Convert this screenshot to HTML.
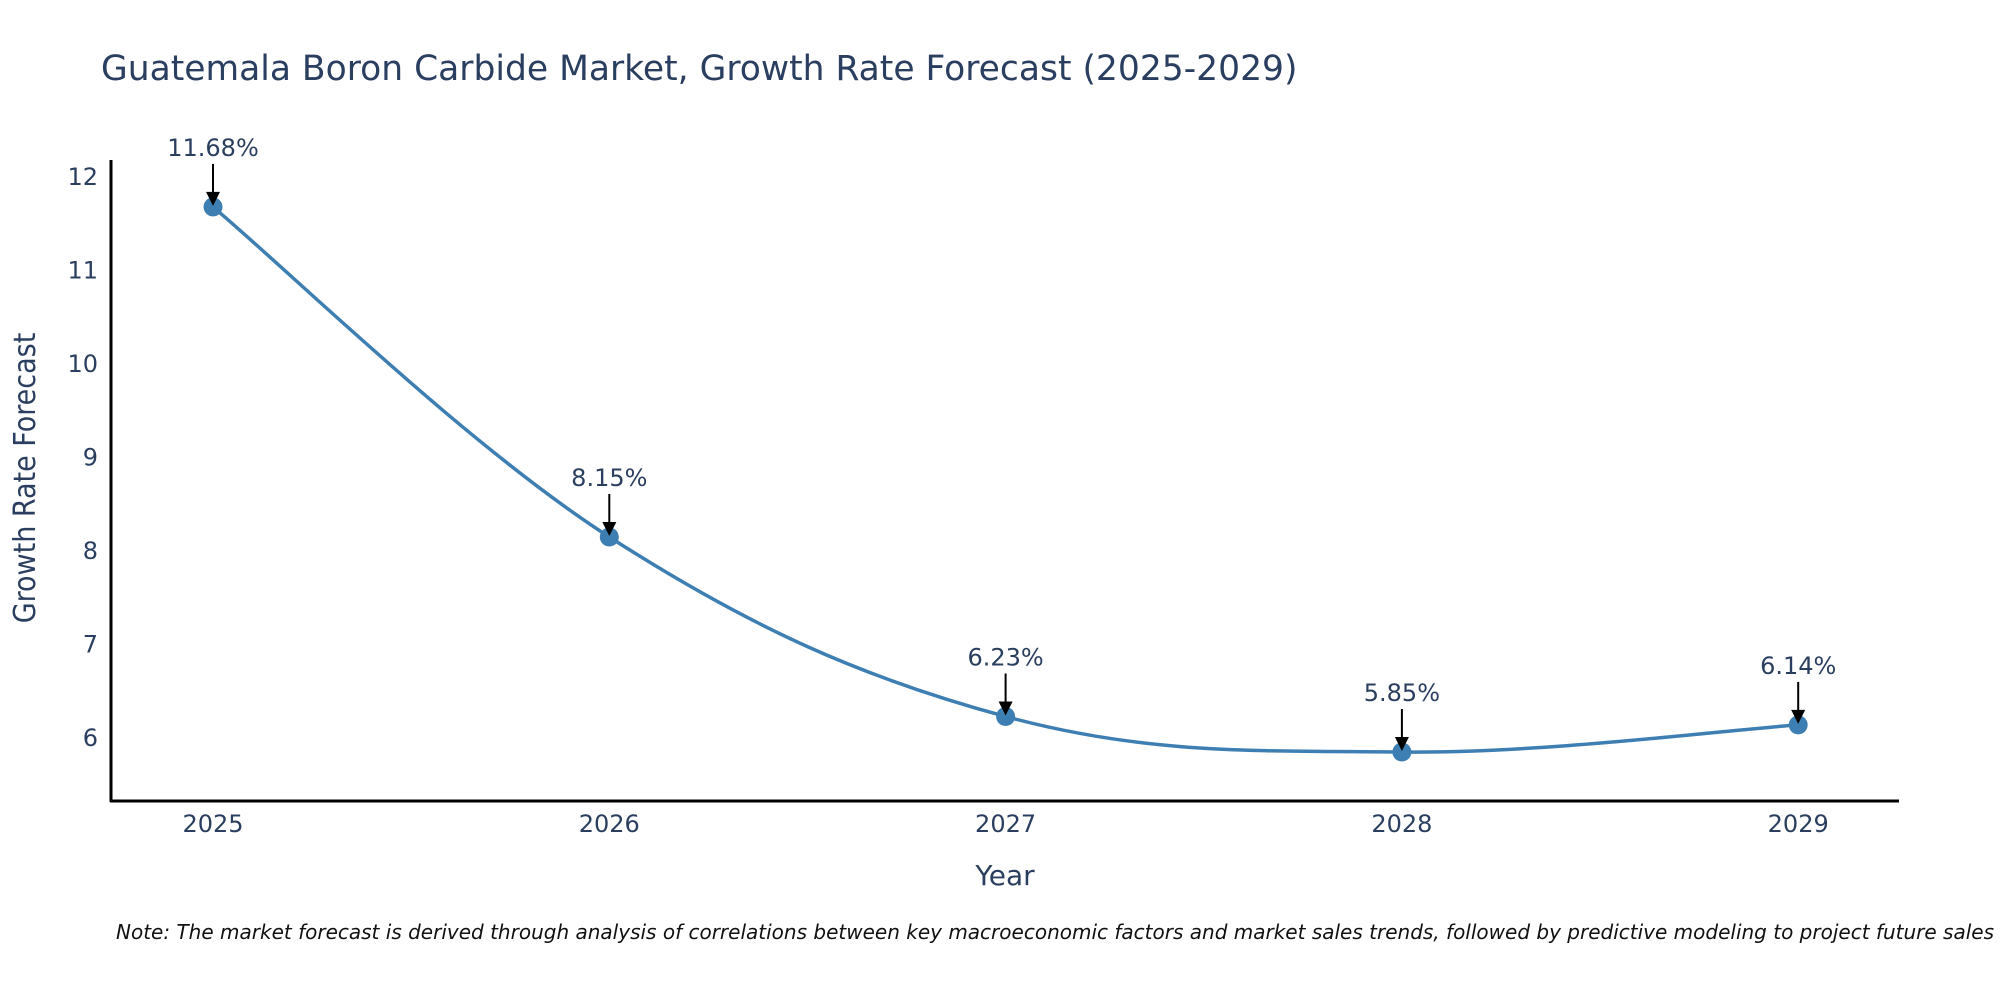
<!DOCTYPE html>
<html><head><meta charset="utf-8"><style>
html,body{margin:0;padding:0;background:#fff;}
svg{display:block;font-family:"DejaVu Sans","Liberation Sans",sans-serif;}
</style></head><body>
<svg id="chart" width="2000" height="1000" viewBox="0 0 2000 1000">
<text x="101" y="80" font-size="34.5" fill="#2a3f5f">Guatemala Boron Carbide Market, Growth Rate Forecast (2025-2029)</text>
<g id="yticks"></g>
<g id="xticks"></g>
<line x1="111" y1="160" x2="111" y2="802" stroke="#000" stroke-width="3"/>
<line x1="110" y1="801" x2="1899" y2="801" stroke="#000" stroke-width="3"/>
<text transform="translate(35,478) rotate(-90)" text-anchor="middle" font-size="30" fill="#2a3f5f" style="font-family:'DejaVu Sans Condensed','Liberation Sans Narrow','Liberation Sans',sans-serif">Growth Rate Forecast</text>
<text x="1005" y="885" text-anchor="middle" font-size="28" fill="#2a3f5f">Year</text>
<g id="series"></g>
<g id="annots"></g>
<text x="116" y="939" font-size="20" font-style="italic" fill="#111" textLength="1878" lengthAdjust="spacingAndGlyphs">Note: The market forecast is derived through analysis of correlations between key macroeconomic factors and market sales trends, followed by predictive modeling to project future sales</text>
</svg>
<script>
const categories = ["2025","2026","2027","2028","2029"];
const values = [11.68, 8.15, 6.23, 5.85, 6.14];
const labels = ["11.68%","8.15%","6.23%","5.85%","6.14%"];
const yTicks = [6,7,8,9,10,11,12];

const NS = "http://www.w3.org/2000/svg";
function xs(i){ return 213 + i*396.3; }
function ys(v){ return 738 - (v-6)*93.5; }
function mk(tag, attrs, parent){ const e=document.createElementNS(NS,tag); for(const k in attrs) e.setAttribute(k,attrs[k]); parent.appendChild(e); return e; }

const yg=document.getElementById('yticks');
yTicks.forEach(t=>{
  const e=mk('text',{x:98,y:ys(t)+8,'text-anchor':'end','font-size':24,fill:'#2a3f5f'},yg);
  e.textContent=t;
  
  
});
const xg=document.getElementById('xticks');
categories.forEach((c,i)=>{
  const e=mk('text',{x:xs(i),y:832,'text-anchor':'middle','font-size':24,fill:'#2a3f5f'},xg);
  e.textContent=c;
  
  
});

const pts=values.map((v,i)=>[xs(i),ys(v)]);
let d='M'+pts[0][0]+','+pts[0][1];
const tension=0.18;
for(let i=0;i<pts.length-1;i++){
  const p0=pts[Math.max(0,i-1)],p1=pts[i],p2=pts[i+1],p3=pts[Math.min(pts.length-1,i+2)];
  const c1=[p1[0]+(p2[0]-p0[0])*tension, p1[1]+(p2[1]-p0[1])*tension];
  const c2=[p2[0]-(p3[0]-p1[0])*tension, p2[1]-(p3[1]-p1[1])*tension];
  d+=' C'+c1[0]+','+c1[1]+' '+c2[0]+','+c2[1]+' '+p2[0]+','+p2[1];
}
const sg=document.getElementById('series');
const line=mk('path',{d:d,fill:'none',stroke:'#3d7fb3','stroke-width':3.5},sg);


pts.forEach(p=>{
  const c=mk('circle',{cx:p[0],cy:p[1],r:9.5,fill:'#3d7fb3'},sg);
  
  
});

const ag=document.getElementById('annots');
pts.forEach((p,i)=>{
  const l=mk('line',{x1:p[0],y1:p[1]-43,x2:p[0],y2:p[1]-12,stroke:'#000','stroke-width':2},ag);
  
  
  const h=mk('polygon',{points:(p[0]-7)+','+(p[1]-15)+' '+(p[0]+7)+','+(p[1]-15)+' '+p[0]+','+(p[1]-1),fill:'#000'},ag);
  
  
  const t=mk('text',{x:p[0],y:p[1]-51,'text-anchor':'middle','font-size':24,fill:'#2a3f5f'},ag);
  t.textContent=labels[i];
  
  
});
</script>
</body></html>
